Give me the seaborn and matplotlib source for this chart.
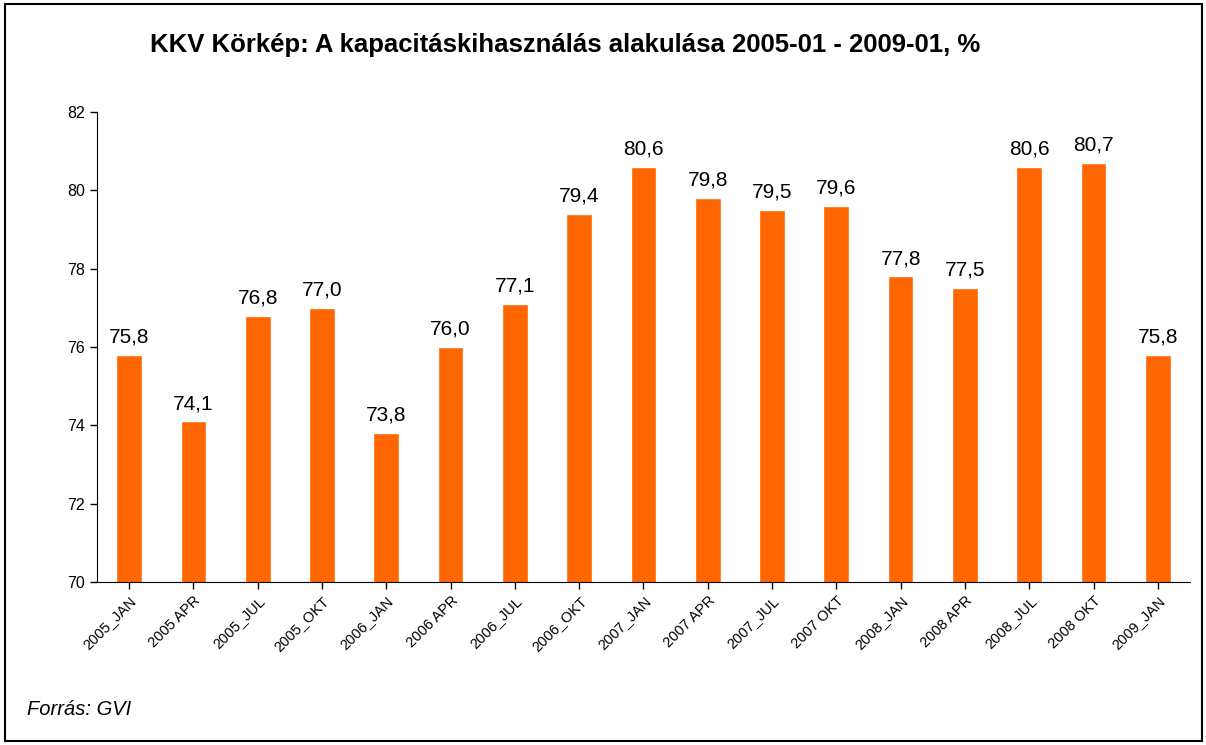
import matplotlib
matplotlib.use("Agg")
import matplotlib.pyplot as plt
import seaborn as sns
import pandas as pd

periods = ["2005_JAN", "2005 APR", "2005_JUL", "2005_OKT", "2006_JAN", "2006 APR",
           "2006_JUL", "2006_OKT", "2007_JAN", "2007 APR", "2007_JUL", "2007 OKT",
           "2008_JAN", "2008 APR", "2008_JUL", "2008 OKT", "2009_JAN"]
values = [75.8, 74.1, 76.8, 77.0, 73.8, 76.0, 77.1, 79.4, 80.6,
          79.8, 79.5, 79.6, 77.8, 77.5, 80.6, 80.7, 75.8]
yticks = [70, 72, 74, 76, 78, 80, 82]

sns.set_style("white")
plt.rcParams['font.family'] = ['Liberation Sans', 'DejaVu Sans']
plt.rcParams['text.color'] = 'black'
plt.rcParams['xtick.color'] = 'black'
plt.rcParams['ytick.color'] = 'black'

df = pd.DataFrame({"period": periods, "value": values})

fig = plt.figure(figsize=(12.06, 7.45), dpi=100)
ax = fig.add_axes([0.0804, 0.2188, 0.9063, 0.6309])

sns.barplot(data=df, x="period", y="value", color="#FF6600", saturation=1,
            width=0.4, ax=ax)

ax.set_ylim(70, 82)
ax.set_yticks(yticks)
ax.set_yticklabels([str(t) for t in yticks], fontsize=11.5)
ax.set_xlim(-0.5, len(periods) - 0.5)
ax.set_xlabel("")
ax.set_ylabel("")

labels = [f"{v:.1f}".replace(".", ",") for v in values]
ax.bar_label(ax.containers[0], labels=labels, padding=6, fontsize=15, color="black")

ax.tick_params(axis="y", length=5, width=1, direction="out", left=True, color="black")
ax.tick_params(axis="x", length=5, width=1, direction="out", bottom=True, color="black")
plt.setp(ax.get_xticklabels(), rotation=45, ha="right", rotation_mode="anchor", fontsize=10.5)

for side in ["top", "right"]:
    ax.spines[side].set_visible(False)
ax.spines["left"].set_color("black")
ax.spines["bottom"].set_color("black")

fig.text(0.469, 0.94, "KKV Körkép: A kapacitáskihasználás alakulása 2005-01 - 2009-01, %",
         ha="center", va="center", fontsize=18.5, fontweight="bold", color="black")
fig.text(0.022, 0.047, "Forrás: GVI", ha="left", va="center", fontsize=14.5,
         style="italic", color="black")

fig.add_artist(plt.Rectangle((0.004, 0.006), 0.993, 0.988, transform=fig.transFigure,
                             fill=False, lw=1.5, edgecolor="black"))

fig.savefig("out.png", dpi=100)
